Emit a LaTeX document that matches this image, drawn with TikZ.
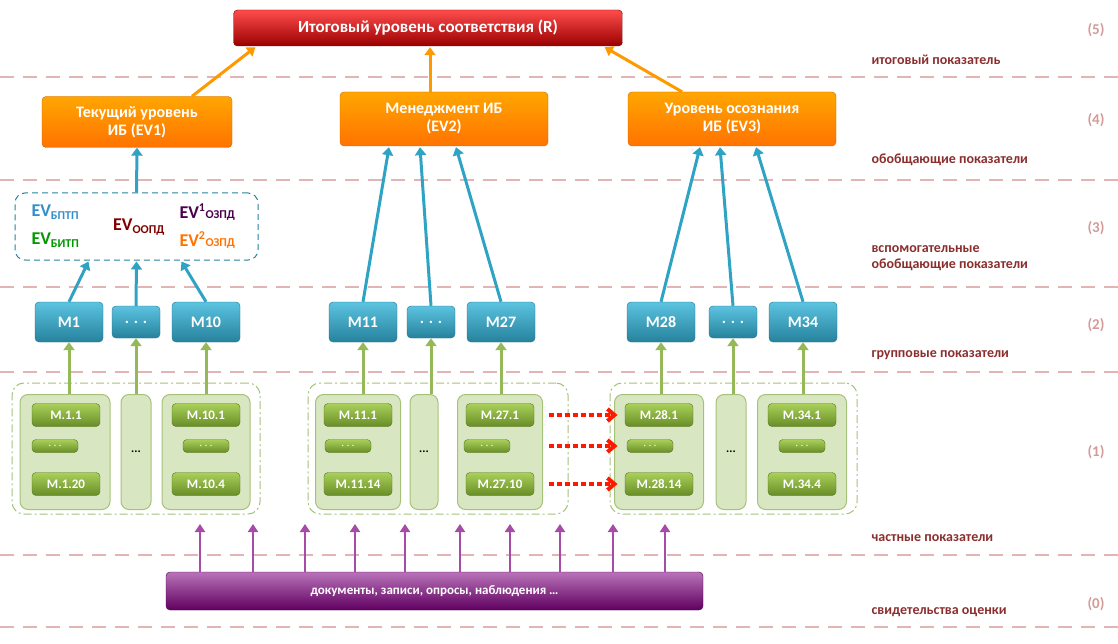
\documentclass[tikz,border=0pt]{standalone}
\usepackage{fontspec}
\setmainfont{Carlito}
\usetikzlibrary{arrows.meta,calc}
\definecolor{sep}{HTML}{E2B4B4}
\definecolor{lab}{HTML}{8B2E2E}
\definecolor{num}{HTML}{D49A9A}
\definecolor{bl}{HTML}{2FA3C4}
\definecolor{blt}{HTML}{5CC3E0}
\definecolor{gr}{HTML}{7BA62E}
\definecolor{grt}{HTML}{A9D05A}
\definecolor{pn}{HTML}{D8E6C2}
\definecolor{pnb}{HTML}{A6C27A}
\begin{document}
\begin{tikzpicture}[x=1pt,y=-1pt,font=\bfseries,
 sepl/.style={sep,line width=1.5pt,dash pattern=on 14pt off 9pt},
 base/.style={rounded corners=4pt,text=white,inner sep=0pt,align=center},
 red/.style={base,top color=red!70!white,bottom color=red!60!black,draw=red!50!black,font=\bfseries\fontsize{17}{19}\selectfont},
 ora/.style={base,top color=orange!70!yellow,bottom color=orange!90!red,draw=orange!80!black,font=\bfseries\fontsize{16}{18}\selectfont},
 mb/.style={base,top color=blt,bottom color=bl!80!black,draw=bl!70!black,font=\bfseries\fontsize{16}{18}\selectfont,minimum width=68pt,minimum height=40pt},
 md/.style={mb,minimum width=48pt,minimum height=32pt},
 mg/.style={base,top color=grt,bottom color=gr!85!black,draw=gr!70!black,font=\bfseries\fontsize{13}{15}\selectfont,minimum width=68pt,minimum height=23pt},
 mgd/.style={mg,minimum width=46pt,minimum height=13pt,font=\bfseries\fontsize{9}{9}\selectfont},
 pan/.style={fill=pn,draw=pnb,line width=1pt,rounded corners=8pt},
 grp/.style={draw=pnb,line width=1pt,dash pattern=on 8pt off 3pt on 2pt off 3pt,rounded corners=12pt},
 ba/.style={-{Triangle[width=11pt,length=8pt]},bl,line width=3pt},
 oa/.style={-{Triangle[width=11pt,length=8pt]},orange!80!yellow,line width=3pt},
 ga/.style={-{Triangle[width=11pt,length=8pt]},gr!80!white,line width=3pt},
 pa/.style={-{Triangle[width=10pt,length=8pt]},violet!70!white,line width=2.5pt},
 ra/.style={-{Straight Barb[width=12pt,length=7pt]},red!80!orange,line width=4pt,dash pattern=on 5pt off 3pt},
 rl/.style={lab,font=\fontsize{14}{16}\selectfont\bfseries,anchor=west,align=left},
 rn/.style={num,font=\fontsize{15}{16}\selectfont\bfseries}]
\useasboundingbox (0,0) rectangle (1118,644);
\foreach \y in {77,180,287,372,555,627} \draw[sepl] (0,\y) -- (1118,\y);
% right labels
\node[rn] (n5) at (1096,30) {(5)};
\node[rn] (n4) at (1096,120) {(4)};
\node[rn] (n3) at (1096,228) {(3)};
\node[rn] (n2) at (1096,325) {(2)};
\node[rn] (n1) at (1096,452) {(1)};
\node[rn] (n0) at (1096,604) {(0)};
\node[rl] (l5) at (868,60) {итоговый показатель};
\node[rl] (l4) at (868,160) {обобщающие показатели};
\node[rl] (l3) at (868,258) {вспомогательные\\обобщающие показатели};
\node[rl] (l2) at (868,355) {групповые показатели};
\node[rl] (l1) at (868,538) {частные показатели};
\node[rl] (l0) at (868,612) {свидетельства оценки};
% top
\node[red,minimum width=389pt,minimum height=36pt] (R) at (428,28) {Итоговый уровень соответствия (R)};
\node[ora,minimum width=190pt,minimum height=51pt] (E1) at (137,122) {Текущий уровень\\ИБ (EV1)};
\node[ora,minimum width=208pt,minimum height=54pt] (E2) at (444,119) {Менеджмент ИБ\\(EV2)};
\node[ora,minimum width=208pt,minimum height=54pt] (E3) at (732,119) {Уровень осознания\\ИБ (EV3)};
% aux box
\node[draw=bl!80!black,line width=1pt,dash pattern=on 6pt off 4pt,rounded corners=10pt,minimum width=243pt,minimum height=67pt] (AX) at (136.5,226.5) {};
\node[font=\bfseries\fontsize{18}{20}\selectfont,text=blue!40!cyan!60!gray,anchor=west] (a1) at (28,212) {EV\textsubscript{\fontsize{12}{12}\selectfont БПТП}};
\node[font=\bfseries\fontsize{18}{20}\selectfont,text=green!60!black,anchor=west] (a2) at (28,240) {EV\textsubscript{\fontsize{12}{12}\selectfont БИТП}};
\node[font=\bfseries\fontsize{18}{20}\selectfont,text=red!50!black] (a3) at (139,227) {EV\textsubscript{\fontsize{12}{12}\selectfont ООПД}};
\node[font=\bfseries\fontsize{18}{20}\selectfont,text=violet!60!black,anchor=west] (a4) at (176,212) {EV\textsuperscript{\fontsize{12}{12}\selectfont 1}{\fontsize{12}{12}\selectfont ОЗПД}};
\node[font=\bfseries\fontsize{18}{20}\selectfont,text=orange!90!red,anchor=west] (a5) at (176,240) {EV\textsuperscript{\fontsize{12}{12}\selectfont 2}{\fontsize{12}{12}\selectfont ОЗПД}};
% M nodes
\node[mb] (M1) at (69,322) {M1};
\node[md] (D1) at (136,322) {. . .};
\node[mb] (M10) at (206,322) {M10};
\node[mb] (M11) at (363,322) {M11};
\node[md] (D2) at (431,322) {. . .};
\node[mb] (M27) at (501,322) {M27};
\node[mb] (M28) at (661,322) {M28};
\node[md] (D3) at (733,322) {. . .};
\node[mb] (M34) at (803,322) {M34};
% groups
\node[grp,minimum width=248pt,minimum height=131pt] (G1) at (136,448.5) {};
\node[grp,minimum width=260pt,minimum height=131pt] (G2) at (438,448.5) {};
\node[grp,minimum width=247pt,minimum height=131pt] (G3) at (733.5,448.5) {};
% panels
\node[pan,minimum width=90pt,minimum height=115pt] (P1) at (65,452) {};
\node[pan,minimum width=30pt,minimum height=115pt] (P2) at (136,452) {\fontsize{12}{12}\selectfont\bfseries\textcolor{black}{...}};
\node[pan,minimum width=88pt,minimum height=115pt] (P3) at (206,452) {};
\node[pan,minimum width=85pt,minimum height=115pt] (P4) at (358,452) {};
\node[pan,minimum width=28pt,minimum height=115pt] (P5) at (424,452) {\fontsize{12}{12}\selectfont\bfseries\textcolor{black}{...}};
\node[pan,minimum width=85pt,minimum height=115pt] (P6) at (500,452) {};
\node[pan,minimum width=89pt,minimum height=115pt] (P7) at (659,452) {};
\node[pan,minimum width=30pt,minimum height=115pt] (P8) at (731,452) {\fontsize{12}{12}\selectfont\bfseries\textcolor{black}{...}};
\node[pan,minimum width=89pt,minimum height=115pt] (P9) at (802,452) {};
% inner green
\node[mg] (m11) at (66,415) {M.1.1};
\node[mgd] (m12) at (55,446) {. . .};
\node[mg] (m13) at (66,484) {M.1.20};
\node[mg] (m21) at (206,415) {M.10.1};
\node[mgd] (m22) at (206,446) {. . .};
\node[mg] (m23) at (206,484) {M.10.4};
\node[mg] (m31) at (358,415) {M.11.1};
\node[mgd] (m32) at (348,446) {. . .};
\node[mg] (m33) at (358,484) {M.11.14};
\node[mg] (m41) at (500,415) {M.27.1};
\node[mgd] (m42) at (487,446) {. . .};
\node[mg] (m43) at (500,484) {M.27.10};
\node[mg] (m51) at (659,415) {M.28.1};
\node[mgd] (m52) at (650,446) {. . .};
\node[mg] (m53) at (659,484) {M.28.14};
\node[mg] (m61) at (802,415) {M.34.1};
\node[mgd] (m62) at (802,446) {. . .};
\node[mg] (m63) at (802,484) {M.34.4};
% evidence
\node[base,top color=violet!55!white,bottom color=violet!75!black,draw=violet!60!black,minimum width=537pt,minimum height=38pt,font=\bfseries\fontsize{13}{15}\selectfont] (EV) at (434.5,591) {документы, записи, опросы, наблюдения …};
% orange arrows to R
\draw[oa] ($(E1.north)+(55,0)$) -- ($(R.south west)+(22,1)$);
\draw[oa] ($(E2.north)+(-14,0)$) -- ($(R.south)+(2,1)$);
\draw[oa] ($(E3.north)+(-50,0)$) -- ($(R.south east)+(-18,1)$);
% blue arrows
\draw[ba] (AX.north) -- (E1.south);
\draw[ba] (M1.north) -- ($(AX.south)+(-48,1)$);
\draw[ba] (D1.north) -- ($(AX.south)+(0,1)$);
\draw[ba] (M10.north) -- ($(AX.south)+(45,1)$);
\draw[ba] (M11.north) -- ($(E2.south)+(-55,1)$);
\draw[ba] (D2.north) -- ($(E2.south)+(-24,1)$);
\draw[ba] (M27.north) -- ($(E2.south)+(12,1)$);
\draw[ba] (M28.north) -- ($(E3.south)+(-32,1)$);
\draw[ba] (D3.north) -- ($(E3.south)+(-12,1)$);
\draw[ba] (M34.north) -- ($(E3.south)+(24,1)$);
% green arrows
\foreach \p/\m in {P1/M1,P2/D1,P3/M10,P4/M11,P5/D2,P6/M27,P7/M28,P8/D3,P9/M34}
  \draw[ga] (\p.north -| \m.south) -- (\m.south);
% red dotted arrows
\foreach \a/\b in {m41/m51,m42/m52,m43/m53}
  \draw[ra] ($(G2.east |- \a)+(-20,0)$) -- ($(G3.west |- \a)+(8,0)$);
% purple arrows
\foreach \x in {200,253,305,355,405,460,510,560,613,665}
  \draw[pa] (EV.north -| \x,0) -- (\x,524);
\end{tikzpicture}
\end{document}
